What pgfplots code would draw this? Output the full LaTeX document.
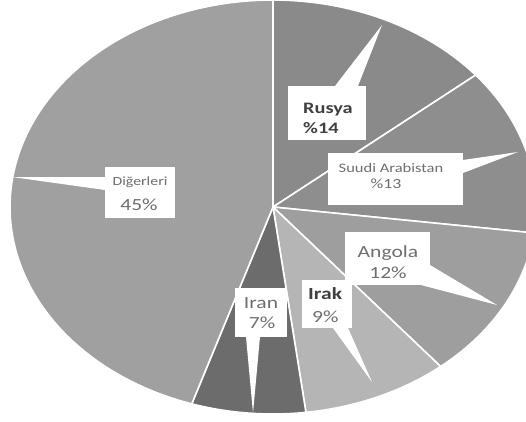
\documentclass[border=0pt]{standalone}
\usepackage{graphicx}
\usepackage{pgfplots}
\pgfplotsset{compat=1.18}
\usepackage{fontspec}
\setmainfont{Carlito}
\definecolor{cRus}{HTML}{8A8A8A}
\definecolor{cSuu}{HTML}{8E8E8E}
\definecolor{cAng}{HTML}{9E9E9E}
\definecolor{cIrk}{HTML}{B5B5B5}
\definecolor{cIrn}{HTML}{6C6C6C}
\definecolor{cDig}{HTML}{A0A0A0}
\definecolor{tDark}{HTML}{404040}
\definecolor{tGray}{HTML}{6E6E6E}
\newcommand{\sx}[1]{\scalebox{1.27}[1]{#1}}
\begin{document}
\begin{tikzpicture}
% shares (%): Rusya 14, Suudi Arabistan 13, Angola 12, Irak 9, Iran 7, Digerleri 45
\begin{axis}[name=ax, width=526pt, height=421pt, scale only axis,
  xmin=-273, xmax=253, ymin=-214, ymax=207, hide axis, clip=true]
\def\rx{263}\def\ry{207}
\addplot[fill=cRus, draw=white, line width=1.6pt, domain=0:50.4, samples=40] ({\rx*sin(x)},{\ry*cos(x)}) -- (axis cs:0,0) -- cycle;
\addplot[fill=cSuu, draw=white, line width=1.6pt, domain=50.4:97.2, samples=40] ({\rx*sin(x)},{\ry*cos(x)}) -- (axis cs:0,0) -- cycle;
\addplot[fill=cAng, draw=white, line width=1.6pt, domain=97.2:140.4, samples=40] ({\rx*sin(x)},{\ry*cos(x)}) -- (axis cs:0,0) -- cycle;
\addplot[fill=cIrk, draw=white, line width=1.6pt, domain=140.4:172.8, samples=30] ({\rx*sin(x)},{\ry*cos(x)}) -- (axis cs:0,0) -- cycle;
\addplot[fill=cIrn, draw=white, line width=1.6pt, domain=172.8:198, samples=30] ({\rx*sin(x)},{\ry*cos(x)}) -- (axis cs:0,0) -- cycle;
\addplot[fill=cDig, draw=white, line width=1.6pt, domain=198:360, samples=100] ({\rx*sin(x)},{\ry*cos(x)}) -- (axis cs:0,0) -- cycle;
% leader wedges
\fill[white] (axis cs:109,182) -- (axis cs:62,121) -- (axis cs:85,121) -- cycle;
\fill[white] (axis cs:245,55) -- (axis cs:190,47) -- (axis cs:190,34) -- cycle;
\fill[white] (axis cs:224,-98) -- (axis cs:157,-58) -- (axis cs:148,-78) -- cycle;
\fill[white] (axis cs:99,-175) -- (axis cs:60,-121) -- (axis cs:75,-121) -- cycle;
\fill[white] (axis cs:-20,-206) -- (axis cs:-27,-130) -- (axis cs:-13,-130) -- cycle;
\fill[white] (axis cs:-261,30) -- (axis cs:-168,30) -- (axis cs:-168,17) -- cycle;
% boxes
\fill[white] (axis cs:15,121) rectangle (axis cs:93,67);
\fill[white] (axis cs:55,54) rectangle (axis cs:190,2);
\fill[white] (axis cs:72,-25) rectangle (axis cs:157,-78);
\fill[white] (axis cs:29,-73) rectangle (axis cs:79,-121);
\fill[white] (axis cs:-38,-81) rectangle (axis cs:14,-130);
\fill[white] (axis cs:-168,40) rectangle (axis cs:-98,-11);
% texts
\node[anchor=base west, inner sep=0pt, text=tDark, font=\fontsize{16}{16}\selectfont\bfseries] at (axis cs:30,94) {\sx{Rusya}};
\node[anchor=base west, inner sep=0pt, text=tDark, font=\fontsize{16}{16}\selectfont\bfseries] at (axis cs:30,74) {\sx{\%14}};
\node[anchor=base, inner sep=0pt, text=tGray, font=\fontsize{13}{13}\selectfont] at (axis cs:118,35) {\sx{Suudi Arabistan}};
\node[anchor=base, inner sep=0pt, text=tGray, font=\fontsize{14}{14}\selectfont] at (axis cs:113,19) {\sx{\%13}};
\node[anchor=base, inner sep=0pt, text=tGray, font=\fontsize{17}{17}\selectfont] at (axis cs:115,-50) {\sx{Angola}};
\node[anchor=base, inner sep=0pt, text=tGray, font=\fontsize{17}{17}\selectfont] at (axis cs:115,-71) {\sx{12\%}};
\node[anchor=base west, inner sep=0pt, text=tDark, font=\fontsize{17}{17}\selectfont\bfseries] at (axis cs:35,-92) {\sx{Irak}};
\node[anchor=base west, inner sep=0pt, text=tGray, font=\fontsize{17}{17}\selectfont] at (axis cs:39,-115) {\sx{9\%}};
\node[anchor=base, inner sep=0pt, text=tGray, font=\fontsize{17}{17}\selectfont] at (axis cs:-12,-101) {\sx{Iran}};
\node[anchor=base, inner sep=0pt, text=tGray, font=\fontsize{17}{17}\selectfont] at (axis cs:-11,-121) {\sx{7\%}};
\node[anchor=base, inner sep=0pt, text=tGray, font=\fontsize{12.5}{12.5}\selectfont] at (axis cs:-133,22) {\sx{Diğerleri}};
\node[anchor=base, inner sep=0pt, text=tGray, font=\fontsize{17}{17}\selectfont] at (axis cs:-134,-3) {\sx{45\%}};
\end{axis}
\pgfresetboundingbox
\path[use as bounding box] (ax.south west) rectangle (ax.north east);
\end{tikzpicture}
\end{document}
